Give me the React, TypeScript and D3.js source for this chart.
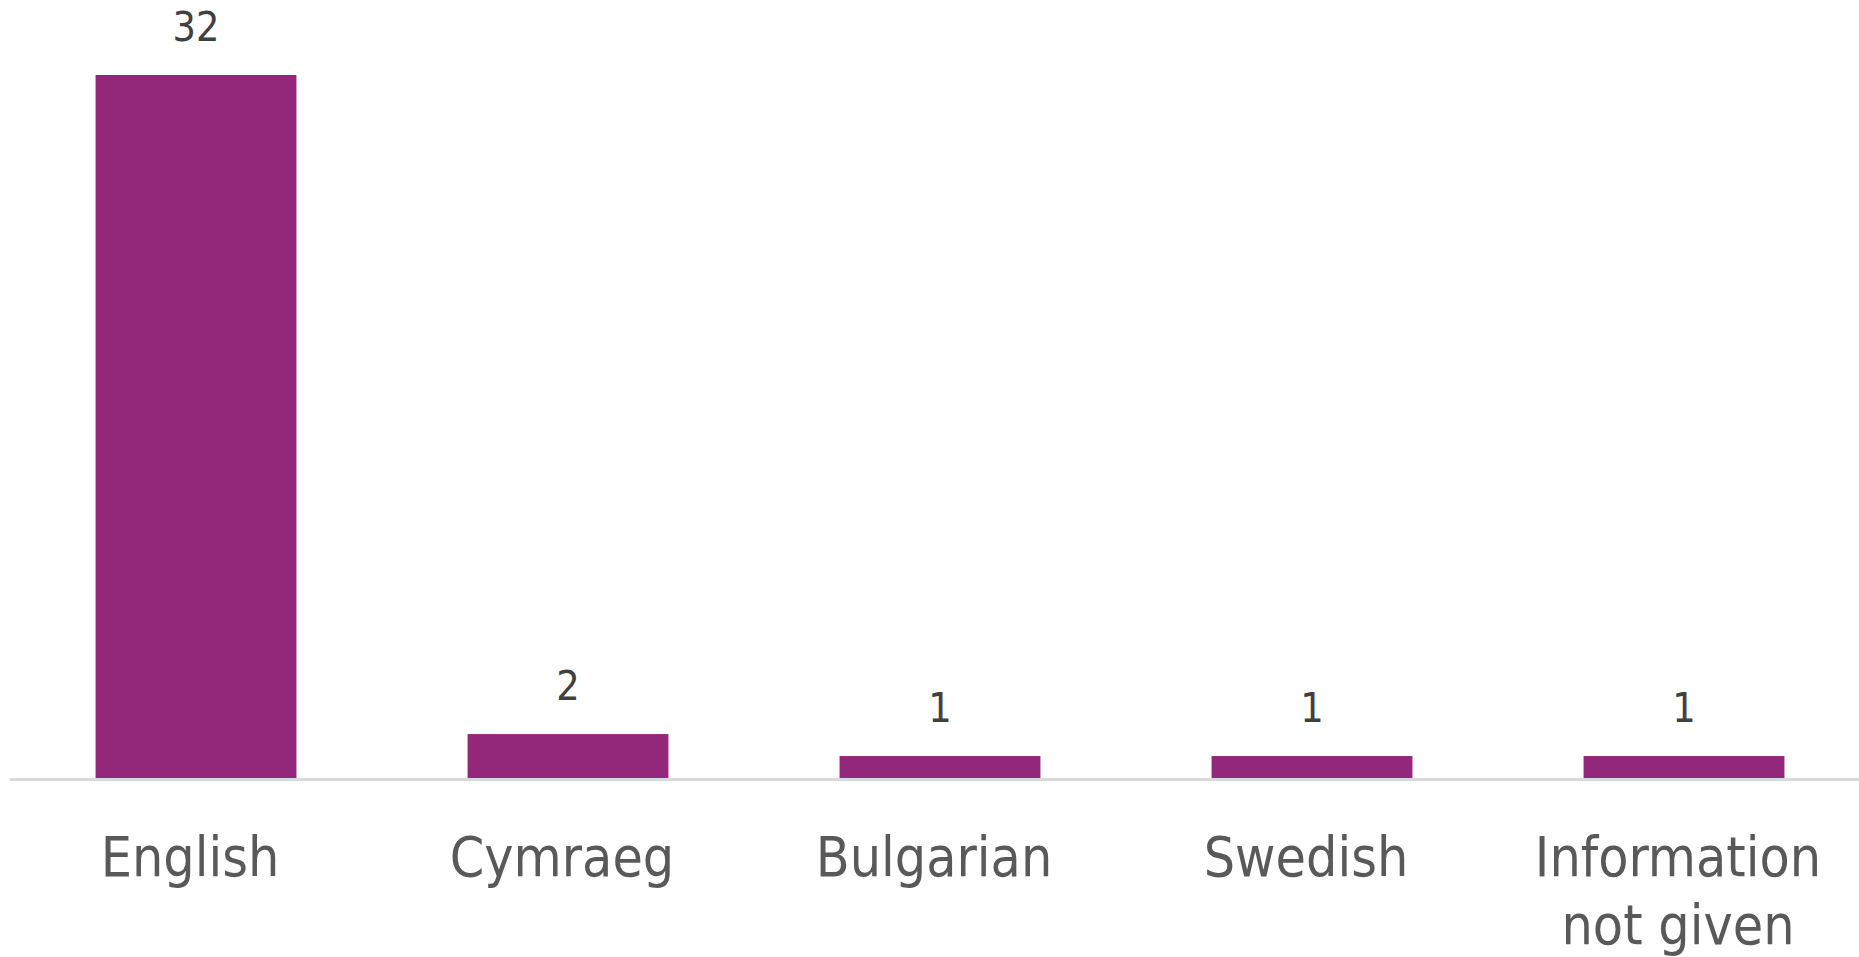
import React from "react";
import * as d3 from "d3";

// chart data
const categories: string[][] = [
  ["English"],
  ["Cymraeg"],
  ["Bulgarian"],
  ["Swedish"],
  ["Information", "not given"],
];
const values: number[] = [32, 2, 1, 1, 1];

const width = 1859;
const height = 957;
const font = "'DejaVu Sans Condensed', 'DejaVu Sans', Tahoma, sans-serif";

const App: React.FC = () => {
  const margin = { left: 10, right: -11, baseline: 778, top: 75 };

  const x = d3
    .scaleBand<number>()
    .domain(values.map((_, i) => i))
    .range([margin.left, width - margin.right])
    .paddingInner(0.46)
    .paddingOuter(0.23);

  const y = d3
    .scaleLinear()
    .domain([0, d3.max(values) as number])
    .range([margin.baseline, margin.top]);

  return (
    <svg
      width={width}
      height={height}
      style={{ position: "absolute", left: 0, top: 0, background: "#fff" }}
    >
      {/* bars */}
      {values.map((v, i) => (
        <rect
          key={"bar" + i}
          x={x(i)}
          y={y(v)}
          width={x.bandwidth()}
          height={y(0) - y(v)}
          fill="#93287a"
        />
      ))}

      {/* axis line */}
      <line
        x1={margin.left}
        x2={width}
        y1={y(0) + 1.5}
        y2={y(0) + 1.5}
        stroke="#d9d9d9"
        strokeWidth={3}
      />

      {/* value labels */}
      {values.map((v, i) => (
        <text
          key={"val" + i}
          x={(x(i) as number) + x.bandwidth() / 2}
          y={y(v) - 34}
          textAnchor="middle"
          fontFamily={font}
          fontSize={41}
          fill="#404040"
        >
          {v}
        </text>
      ))}

      {/* category labels */}
      {categories.map((lines, i) => (
        <text
          key={"cat" + i}
          x={(x(i) as number) + x.bandwidth() / 2 - 6}
          y={876}
          textAnchor="middle"
          fontFamily={font}
          fontSize={55}
          fill="#595959"
        >
          {lines.map((t, j) => (
            <tspan key={j} x={(x(i) as number) + x.bandwidth() / 2 - 6} dy={j === 0 ? 0 : 68}>
              {t}
            </tspan>
          ))}
        </text>
      ))}
    </svg>
  );
};

export default App;
